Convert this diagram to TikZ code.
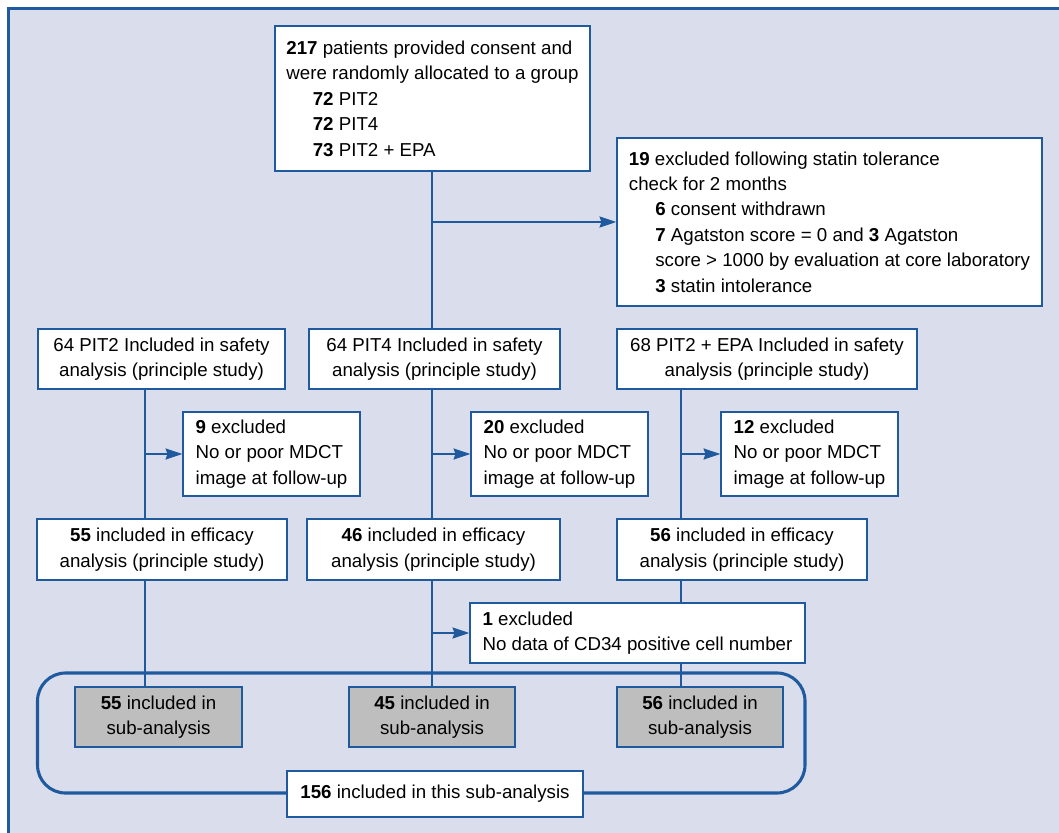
\documentclass[tikz,border=0pt]{standalone}
\usepackage{fontspec}
\setmainfont{Liberation Sans}
\usetikzlibrary{arrows.meta}
\definecolor{fondo}{HTML}{DADEEC}
\definecolor{azul}{HTML}{1F5A9E}
\definecolor{gris}{HTML}{BEBEBE}

\begin{document}
\begin{tikzpicture}[x=0.025cm,y=-0.025cm,line width=1pt,>={Stealth[length=4.2mm,width=2.8mm,inset=0.5mm]},
  caja/.style={draw=azul,fill=white,inner sep=0pt,font=\fontsize{13.3}{18.1}\selectfont},
  lin/.style={azul,line width=1pt},
  flecha/.style={azul,line width=1pt,->}]
  \clip (0,0) rectangle (1059,833);
  % fondo
  \draw[fill=fondo,draw=azul,line width=1.5pt] (8.5,8.5) rectangle (1080,860);
  % aleatorizacion
  \node[caja,align=left,minimum width=7.875cm,minimum height=3.625cm] (rand) at (432.5,98.5)
    {\textbf{217} patients provided consent and\\were randomly allocated to a group\\
     \hspace*{0.66cm}\textbf{72} PIT2\\\hspace*{0.66cm}\textbf{72} PIT4\\\hspace*{0.66cm}\textbf{73} PIT2 + EPA};
  \node[caja,align=left,minimum width=10.625cm,minimum height=4.2cm] (excl0) at (829.5,222)
    {\textbf{19} excluded following statin tolerance\\check for 2 months\\
     \hspace*{0.66cm}\textbf{6} consent withdrawn\\
     \hspace*{0.66cm}\textbf{7} Agatston score = 0 and \textbf{3} Agatston\\
     \hspace*{0.66cm}score > 1000 by evaluation at core laboratory\\
     \hspace*{0.66cm}\textbf{3} statin intolerance};
  % seguridad
  \node[caja,align=center,minimum width=6.175cm,minimum height=1.5cm] (seg1) at (161.5,359)
    {64 PIT2 Included in safety\\analysis (principle study)};
  \node[caja,align=center,minimum width=6.275cm,minimum height=1.5cm] (seg2) at (434.5,359)
    {64 PIT4 Included in safety\\analysis (principle study)};
  \node[caja,align=center,minimum width=7.5cm,minimum height=1.5cm] (seg3) at (767,359)
    {68 PIT2 + EPA Included in safety\\analysis (principle study)};
  % excluidos MDCT
  \node[caja,align=left,minimum width=4.425cm,minimum height=2.1cm] (excl1) at (271.5,454)
    {\textbf{9} excluded\\No or poor MDCT\\image at follow-up};
  \node[caja,align=left,minimum width=4.425cm,minimum height=2.1cm] (excl2) at (559.5,454)
    {\textbf{20} excluded\\No or poor MDCT\\image at follow-up};
  \node[caja,align=left,minimum width=4.425cm,minimum height=2.1cm] (excl3) at (809.5,454)
    {\textbf{12} excluded\\No or poor MDCT\\image at follow-up};
  % eficacia
  \node[caja,align=center,minimum width=6.25cm,minimum height=1.525cm] (efi1) at (162,549.5)
    {\textbf{55} included in efficacy\\analysis (principle study)};
  \node[caja,align=center,minimum width=6.325cm,minimum height=1.525cm] (efi2) at (433.5,549.5)
    {\textbf{46} included in efficacy\\analysis (principle study)};
  \node[caja,align=center,minimum width=6.25cm,minimum height=1.525cm] (efi3) at (742,549.5)
    {\textbf{56} included in efficacy\\analysis (principle study)};
  \node[caja,align=left,minimum width=8.375cm,minimum height=1.5cm] (excl4) at (637.5,633)
    {\textbf{1} excluded\\No data of CD34 positive cell number};
  % subanalisis
  \node[caja,fill=gris,align=center,minimum width=4.175cm,minimum height=1.5cm] (sub1) at (158.5,717)
    {\textbf{55} included in\\sub-analysis};
  \node[caja,fill=gris,align=center,minimum width=4.15cm,minimum height=1.5cm] (sub2) at (432,717)
    {\textbf{45} included in\\sub-analysis};
  \node[caja,fill=gris,align=center,minimum width=4.15cm,minimum height=1.5cm] (sub3) at (700,717)
    {\textbf{56} included in\\sub-analysis};
  \draw[azul,line width=2.2pt,rounded corners=0.7cm] (37.5,673) rectangle (805,793);
  \node[caja,align=center,minimum width=7.4cm,minimum height=1.15cm] (final) at (435,794)
    {\textbf{156} included in this sub-analysis};
  % lineas
  \coordinate (c1) at (145,0);
  \coordinate (c2) at (432,0);
  \coordinate (c3) at (681,0);
  \draw[lin] (rand.south -| c2) -- (seg2.north -| c2);
  \draw[flecha] (excl0.west -| c2) -- (excl0.west);
  \draw[lin] (seg1.south -| c1) -- (efi1.north -| c1);
  \draw[lin] (efi1.south -| c1) -- (sub1.north -| c1);
  \draw[flecha] (excl1.west -| c1) -- (excl1.west);
  \draw[lin] (seg2.south -| c2) -- (efi2.north -| c2);
  \draw[lin] (efi2.south -| c2) -- (sub2.north -| c2);
  \draw[flecha] (excl2.west -| c2) -- (excl2.west);
  \draw[flecha] (excl4.west -| c2) -- (excl4.west);
  \draw[lin] (seg3.south -| c3) -- (efi3.north -| c3);
  \draw[flecha] (excl3.west -| c3) -- (excl3.west);
  \draw[lin] (efi3.south -| c3) -- (excl4.north -| c3);
  \draw[lin] (excl4.south -| c3) -- (sub3.north -| c3);
\end{tikzpicture}
\end{document}
